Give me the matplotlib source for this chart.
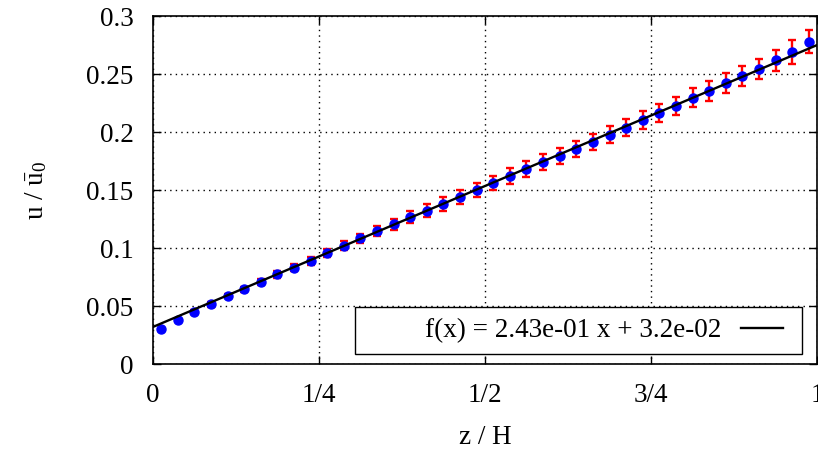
import numpy as np
import matplotlib
matplotlib.use('Agg')
import matplotlib.pyplot as plt
from matplotlib.patches import Rectangle

plt.rcParams['font.family'] = ['Liberation Serif', 'DejaVu Serif']
plt.rcParams['mathtext.fontset'] = 'custom'
plt.rcParams['mathtext.rm'] = 'Liberation Serif'
plt.rcParams['mathtext.it'] = 'Liberation Serif:italic'

# Messpunkte (z/H in der Zellmitte, 40 Stück)
z = (np.arange(40) + 0.5) / 40
u = [0.0299, 0.0379, 0.0448, 0.0514, 0.0586, 0.0644, 0.0710, 0.0773, 0.0830, 0.0891,
     0.0957, 0.1020, 0.1083, 0.1147, 0.1204, 0.1264, 0.1322, 0.1379, 0.1440, 0.1500,
     0.1560, 0.1621, 0.1681, 0.1739, 0.1796, 0.1853, 0.1914, 0.1977, 0.2037, 0.2106,
     0.2164, 0.2227, 0.2296, 0.2356, 0.2422, 0.2483, 0.2543, 0.2618, 0.2690, 0.2778]
u_err = [0.0010, 0.0012, 0.0015, 0.0018, 0.0020, 0.0023, 0.0026, 0.0029, 0.0032, 0.0035,
         0.0037, 0.0039, 0.0042, 0.0045, 0.0050, 0.0052, 0.0054, 0.0057, 0.0060, 0.0062,
         0.0063, 0.0065, 0.0066, 0.0068, 0.0070, 0.0070, 0.0072, 0.0074, 0.0075, 0.0076,
         0.0078, 0.0078, 0.0082, 0.0085, 0.0086, 0.0086, 0.0088, 0.0090, 0.0100, 0.0100]

# lineare Regression
slope = 0.243
intercept = 0.032

x_ticks = [0, 0.25, 0.5, 0.75, 1]
x_ticklabels = ['0', '1/4', '1/2', '3/4', '1']
y_ticks = [0, 0.05, 0.1, 0.15, 0.2, 0.25, 0.3]
y_ticklabels = ['0', '0.05', '0.1', '0.15', '0.2', '0.25', '0.3']

fs = 19.5

fig = plt.figure(figsize=(8.18, 4.5), dpi=100)
ax = fig.add_axes([0.187, 0.191, 0.8118, 0.7733])

ax.errorbar(z, u, yerr=u_err, fmt='none', ecolor='red', elinewidth=1.7,
            capsize=3, capthick=1.7, zorder=2)
ax.plot(z, u, 'o', color='blue', markersize=6.5, zorder=3)

xf = np.array([0, 1])
ax.plot(xf, slope * xf + intercept, color='black', lw=1.7, zorder=4,
        label=f'f(x) = {slope:.2e} x + {intercept:.1e}')

ax.set_xlim(0, 1)
ax.set_ylim(0, 0.3)
ax.set_xticks(x_ticks)
ax.set_xticklabels(x_ticklabels)
ax.set_yticks(y_ticks)
ax.set_yticklabels(y_ticklabels)
ax.tick_params(direction='in', length=6, width=1, top=True, right=True,
               labelsize=fs)
ax.tick_params(axis='y', pad=14)
ax.tick_params(axis='x', pad=14)
for s in ax.spines.values():
    s.set_linewidth(1.2)

ax.grid(True, color='black', linestyle=(0, (1, 3)), linewidth=1)
ax.set_axisbelow(True)

ax.set_xlabel('z / H', fontsize=fs, labelpad=12)
ax.set_ylabel(r'u / $\bar{\mathrm{u}}_0$', fontsize=fs, labelpad=27)

# Legendenrahmen wie bei gnuplot (breiter als der Inhalt)
ax.add_patch(Rectangle((0.304, 0.0287), 0.673, 0.1353, transform=ax.transAxes,
                       facecolor='white', edgecolor='black', lw=1, zorder=9))
leg = ax.legend(loc='center right', bbox_to_anchor=(0.977, 0.0287 + 0.1353 / 2),
                borderaxespad=0, markerfirst=False, frameon=False, fontsize=fs,
                handlelength=1.55, handletextpad=0.7, borderpad=0.7)
leg.set_zorder(10)

fig.savefig('out.png', dpi=100)
